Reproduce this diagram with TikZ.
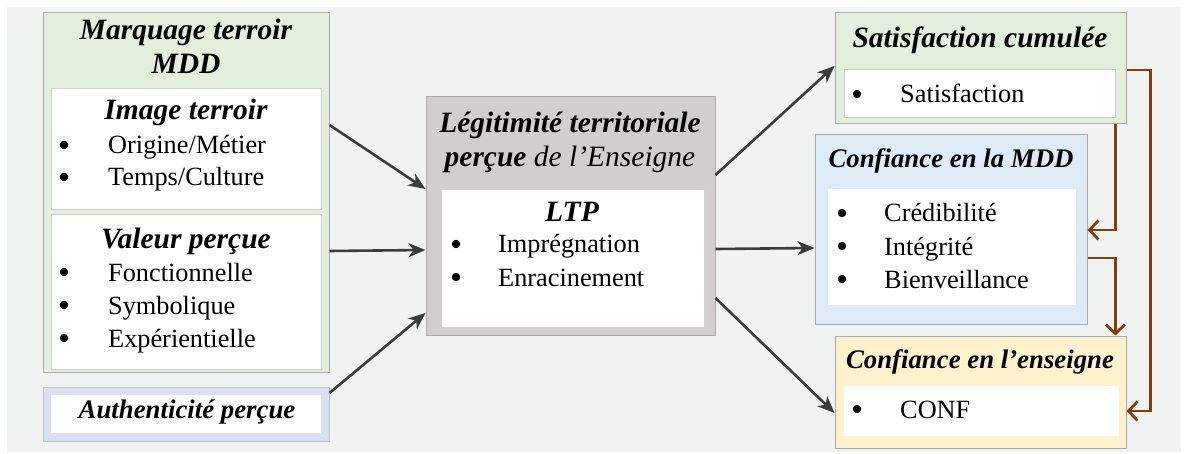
\documentclass[tikz,border=0pt]{standalone}
\usepackage{fontspec}
\setmainfont{Liberation Serif}
\usetikzlibrary{arrows.meta}
\definecolor{fond}{RGB}{241,242,242}
\definecolor{vert}{RGB}{226,239,218}
\definecolor{lavande}{RGB}{217,225,242}
\definecolor{gris}{RGB}{208,206,207}
\definecolor{bleu}{RGB}{221,235,247}
\definecolor{jaune}{RGB}{255,242,204}
\definecolor{brun}{RGB}{132,60,12}
\definecolor{fleche}{RGB}{60,60,60}
\definecolor{bord}{RGB}{170,170,170}

\tikzset{
  boite/.style={draw=bord,line width=1pt,inner sep=0pt,minimum width=#1},
  blanc/.style={draw=black!18,fill=white,line width=0.8pt,inner sep=0pt,minimum width=#1},
  titre/.style={font=\fontsize{29.5}{33}\selectfont\bfseries\itshape,anchor=base,inner sep=0pt},
  petit/.style={font=\fontsize{26.8}{31}\selectfont\bfseries\itshape},
  puce/.style={circle,fill=black,inner sep=0pt,minimum size=8.5pt,yshift=9pt},
  item/.style={font=\fontsize{26.3}{30}\selectfont,anchor=base west,inner sep=0pt},
  lien/.style={-{Stealth[length=17pt,width=14pt,inset=5pt]},fleche,line width=2.6pt},
  retour/.style={-{Straight Barb[length=9pt,width=19pt]},brun,line width=2.8pt}
}

\begin{document}
\begin{tikzpicture}[x=1pt,y=-1pt]
  \useasboundingbox (0,0) rectangle (1185,454);
  \fill[fond] (7,7) rectangle (1181,452);

  % bloc gauche
  \node[boite=286pt,fill=vert,minimum height=359pt] (mtd) at (186,192.5) {};
  \node[blanc=270pt,minimum height=121pt] (img) at (186,148.5) {};
  \node[blanc=270pt,minimum height=155pt] (val) at (186,291.5) {};
  \node[titre] (mtd1) at (186,40) {Marquage terroir};
  \node[titre] (mtd2) at (186,74) {MDD};
  \node[titre] (imgt) at (186,120) {Image terroir};
  \foreach \t [count=\i] in {Origine/M\'etier,Temps/Culture}
    {\node[puce] (imgb\i) at (64,122+32*\i) {};
     \node[item] (imgi\i) at (108,122+32*\i) {\t};}
  \node[titre] (valt) at (186,248) {Valeur per\c{c}ue};
  \foreach \t [count=\i] in {Fonctionnelle,Symbolique,Exp\'erientielle}
    {\node[puce] (valb\i) at (64,248+33*\i) {};
     \node[item] (vali\i) at (108,248+33*\i) {\t};}

  \node[boite=286pt,fill=lavande,draw=lavande!70!black!60,minimum height=54pt] (aut) at (186,414) {};
  \node[blanc=270pt,minimum height=38pt,draw=none] (auti) at (186,414) {};
  \node[titre,petit] (autt) at (187,418) {Authenticit\'e per\c{c}ue};

  % bloc central
  \node[boite=289pt,fill=gris,minimum height=238pt] (lt) at (570.5,216) {};
  \node[blanc=263pt,minimum height=138pt] (lti) at (572.5,258) {};
  \node[titre] (lt1) at (570,133) {L\'egitimit\'e territoriale};
  \node[titre] (lt2) at (570,167) {per\c{c}ue \mdseries de l'Enseigne};
  \node[titre] (ltp) at (572,222) {LTP};
  \foreach \t [count=\i] in {Impr\'egnation,Enracinement}
    {\node[puce] (ltb\i) at (456,220+33*\i) {};
     \node[item] (lti\i) at (498,220+33*\i) {\t};}

  % blocs droite
  \node[boite=291pt,fill=vert,minimum height=111pt] (sat) at (980.5,68.5) {};
  \node[blanc=271pt,minimum height=48pt] (sati) at (979.5,93) {};
  \node[titre] (satt) at (980,48) {Satisfaction cumul\'ee};
  \node[puce] (satb) at (857,103) {};
  \node[item] (sat1) at (900,103) {Satisfaction};

  \node[boite=272pt,fill=bleu,minimum height=189pt] (mdd) at (951,229.5) {};
  \node[blanc=248pt,minimum height=116pt,draw=none] (mddi) at (952,247) {};
  \node[titre,petit] (mddt) at (951,168) {Confiance en la MDD};
  \foreach \t [count=\i] in {Cr\'edibilit\'e,Int\'egrit\'e,Bienveillance}
    {\node[puce] (mddb\i) at (842,189+33*\i) {};
     \node[item] (mdd\i) at (884,189+33*\i) {\t};}

  \node[boite=291pt,fill=jaune,minimum height=112pt] (ce) at (980.5,392) {};
  \node[blanc=275pt,minimum height=50pt,draw=none] (cei) at (981.5,411) {};
  \node[titre,petit] (cet) at (980,368) {Confiance en l'enseigne};
  \node[puce] (ceb) at (857,418) {};
  \node[item] (ce1) at (900,418) {CONF};

  % liens
  \draw[lien] (mtd.east |- 0,125) -- (lt.west |- 0,189);
  \draw[lien] (mtd.east |- 0,251) -- (lt.west |- 0,250);
  \draw[lien] (aut.east |- 0,393) -- (lt.west |- 0,313);
  \draw[lien] (lt.east |- 0,175) -- (sat.west |- 0,66);
  \draw[lien] (lt.east |- 0,249) -- (mdd.west |- 0,248);
  \draw[lien] (lt.east |- 0,298) -- (ce.west |- 0,413);

  % retours
  \draw[retour] (sat.east |- 0,70) -- ++(24,0) |- (ce.east |- 0,411);
  \draw[retour] (sati.east |- sat.south) |- (mdd.east |- 0,230);
  \draw[retour] (mdd.east |- 0,258) -| (sati.east |- ce.north);
\end{tikzpicture}
\end{document}
